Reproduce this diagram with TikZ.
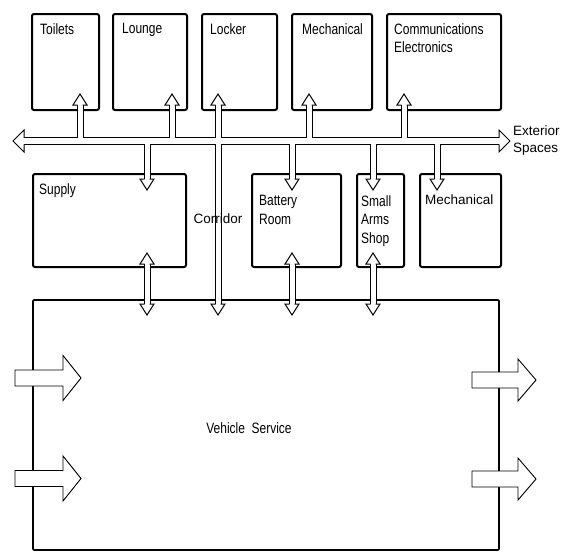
\documentclass[tikz,border=0pt]{standalone}
\usepackage{fontspec}
\newfontfamily\lblfont[FakeStretch=0.8]{Liberation Sans}
\newfontfamily\widefont{Liberation Sans}
\usetikzlibrary{positioning,calc}

\tikzset{
  room/.style={draw, line width=2pt, rounded corners=2pt, inner sep=0pt},
  lbl/.style={font=\lblfont\fontsize{15}{18.5}\selectfont, inner sep=0pt, align=left},
  widelbl/.style={font=\widefont\fontsize{13.5}{17}\selectfont, inner sep=0pt, align=left},
  stemout/.style={line width=7pt},
  stemin/.style={white, line width=5pt},
  hallout/.style={line width=8.5pt},
  hallin/.style={white, line width=6.5pt},
  pics/vhead/.style={code={
    \fill[white] (0,0) -- (-11,7) -- (-11,-7) -- cycle;
    \draw[line width=1pt] (-11,2.5) -- (-11,7) -- (0,0) -- (-11,-7) -- (-11,-2.5);
  }},
  pics/hhead/.style={code={
    \fill[white] (0,0) -- (-11,11) -- (-11,-11) -- cycle;
    \draw[line width=1pt] (-11,3.25) -- (-11,11) -- (0,0) -- (-11,-11) -- (-11,-3.25);
  }},
  pics/bigarrow/.style 2 args={code={
    \draw[fill=white, line width=0.9pt] (0,8) -- (#1,8) -- (#1,#2) -- ({#1+18},0)
      -- (#1,-#2) -- (#1,-8) -- (0,-8) -- cycle;
  }}
}

\begin{document}
\begin{tikzpicture}[x=1pt, y=-1pt, line join=miter]
\useasboundingbox (0,0) rectangle (567,555);

% rooms
\node[room, minimum width=67pt, minimum height=96pt] (toilets) at (65.5,62) {};
\node[room, minimum width=74pt, minimum height=96pt] (lounge) at (150,62) {};
\node[room, minimum width=75pt, minimum height=96pt] (locker) at (239.5,62) {};
\node[room, minimum width=80pt, minimum height=96pt] (mechA) at (332,62) {};
\node[room, minimum width=114pt, minimum height=96pt] (comms) at (444,62) {};
\node[room, minimum width=153pt, minimum height=93pt] (supply) at (109.5,220.5) {};
\node[room, minimum width=89pt, minimum height=93pt] (battery) at (296.5,220.5) {};
\node[room, minimum width=47pt, minimum height=93pt] (arms) at (380.5,220.5) {};
\node[room, minimum width=81pt, minimum height=93pt] (mechB) at (460.5,220.5) {};
\node[room, line width=1.6pt, rounded corners=1pt, minimum width=466pt, minimum height=250pt] (vehicle) at (266,425) {};

% corridor ends and arrow tips
\coordinate (cw) at (13,141);
\coordinate (ce) at (510,141);
\foreach \n/\x in {t1/80, t2/172, t3/218, t4/309, t5/404} \coordinate (\n) at (\x,94);
\foreach \n/\x in {d1/147, d2/292, d3/373, d4/437} \coordinate (\n) at (\x,190);
\foreach \n/\x in {u1/147, u2/292, u3/373} \coordinate (\n) at (\x,253);
\foreach \n/\x in {v1/147, v2/218, v3/292, v4/373} \coordinate (\n) at (\x,315);

% hollow corridor and branches
\foreach \s/\h in {stemout/hallout, stemin/hallin} {
  \draw[\h] ($(cw)+(11,0)$) -- ($(ce)+(-11,0)$);
  \foreach \t in {t1,t2,t4,t5} \draw[\s] (\t |- cw) -- ($(\t)+(0,11)$);
  \foreach \t in {d1,d2,d3,d4} \draw[\s] (\t |- cw) -- ($(\t)+(0,-11)$);
  \draw[\s] ($(t3)+(0,11)$) -- ($(v2)+(0,-11)$);
  \foreach \a/\b in {u1/v1, u2/v3, u3/v4} \draw[\s] ($(\a)+(0,11)$) -- ($(\b)+(0,-11)$);
}
\foreach \t in {t1,t2,t3,t4,t5,u1,u2,u3} \pic[rotate=90] at (\t) {vhead};
\foreach \t in {d1,d2,d3,d4,v1,v2,v3,v4} \pic[rotate=-90] at (\t) {vhead};
\pic[rotate=180] at (cw) {hhead};
\pic at (ce) {hhead};

% vehicle flow
\pic at (15,378) {bigarrow={48}{22.5}};
\pic at (15,478.5) {bigarrow={48}{22.5}};
\pic at (472,380) {bigarrow={46}{21}};
\pic at (472,479) {bigarrow={46}{21}};

% labels
\node[lbl, below right=10pt and 9pt of toilets.north west] (ltoilets) {Toilets};
\node[lbl, below right=10pt and 10pt of lounge.north west] (llounge) {Lounge};
\node[lbl, below right=10pt and 9pt of locker.north west] (llocker) {Locker};
\node[lbl, below right=10pt and 11pt of mechA.north west] (lmechA) {Mechanical};
\node[lbl, below right=10pt and 8pt of comms.north west] (lcomms) {Communications\\Electronics};
\node[lbl, below right=10pt and 7pt of supply.north west] (lsupply) {Supply};
\node[lbl, below right=22pt and 8pt of battery.north west] (lbattery) {Battery\\Room};
\node[lbl, below right=22pt and 5pt of arms.north west] (larms) {Small\\Arms\\Shop};
\node[widelbl, below right=22pt and 6pt of mechB.north west] (lmechB) {Mechanical};
\node[widelbl] (lcorridor) at (218,219) {Corridor};
\node[widelbl, right=3pt of ce] (lexterior) {Exterior\\Spaces};
\node[lbl] (lvehicle) at (249,428) {Vehicle\ \ Service};
\end{tikzpicture}
\end{document}
